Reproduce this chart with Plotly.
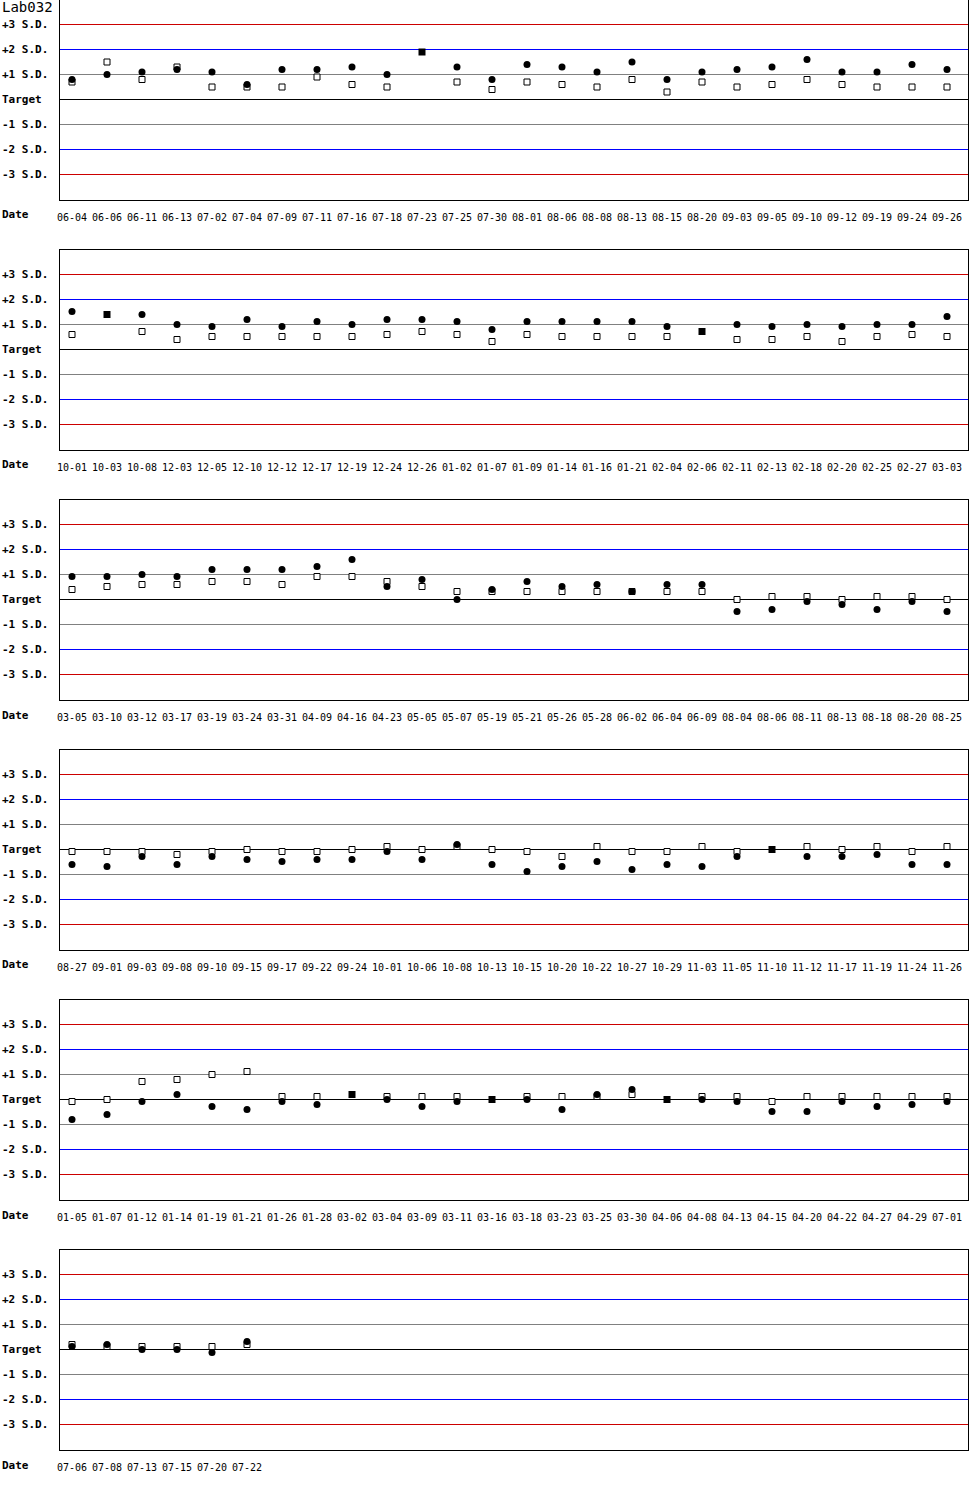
import plotly.graph_objects as go
from plotly.subplots import make_subplots

# Levey-Jennings chart, Lab032; values in S.D. from target
dates1 = ["06-04", "06-06", "06-11", "06-13", "07-02", "07-04", "07-09", "07-11", "07-16", "07-18",
          "07-23", "07-25", "07-30", "08-01", "08-06", "08-08", "08-13", "08-15", "08-20", "09-03",
          "09-05", "09-10", "09-12", "09-19", "09-24", "09-26"]
circ1 = [0.8, 1.0, 1.1, 1.2, 1.1, 0.6, 1.2, 1.2, 1.3, 1.0, None, 1.3, 0.8, 1.4, 1.3, 1.1, 1.5,
         0.8, 1.1, 1.2, 1.3, 1.6, 1.1, 1.1, 1.4, 1.2]
sq1 = [0.7, 1.5, 0.8, 1.3, 0.5, 0.5, 0.5, 0.9, 0.6, 0.5, None, 0.7, 0.4, 0.7, 0.6, 0.5, 0.8,
       0.3, 0.7, 0.5, 0.6, 0.8, 0.6, 0.5, 0.5, 0.5]
flagd1 = ["07-23"]
flagv1 = [1.9]

dates2 = ["10-01", "10-03", "10-08", "12-03", "12-05", "12-10", "12-12", "12-17", "12-19", "12-24",
          "12-26", "01-02", "01-07", "01-09", "01-14", "01-16", "01-21", "02-04", "02-06", "02-11",
          "02-13", "02-18", "02-20", "02-25", "02-27", "03-03"]
circ2 = [1.52, None, 1.4, 1.0, 0.92, 1.2, 0.92, 1.12, 1.0, 1.2, 1.2, 1.12, 0.8, 1.12, 1.12, 1.12,
         1.12, 0.92, None, 1.0, 0.92, 1.0, 0.92, 1.0, 1.0, 1.32]
sq2 = [0.6, None, 0.72, 0.4, 0.52, 0.52, 0.52, 0.52, 0.52, 0.6, 0.72, 0.6, 0.32, 0.6, 0.52, 0.52,
       0.52, 0.52, None, 0.4, 0.4, 0.52, 0.32, 0.52, 0.6, 0.52]
flagd2 = ["10-03", "02-06"]
flagv2 = [1.4, 0.72]

dates3 = ["03-05", "03-10", "03-12", "03-17", "03-19", "03-24", "03-31", "04-09", "04-16", "04-23",
          "05-05", "05-07", "05-19", "05-21", "05-26", "05-28", "06-02", "06-04", "06-09", "08-04",
          "08-06", "08-11", "08-13", "08-18", "08-20", "08-25"]
circ3 = [0.92, 0.92, 1.0, 0.92, 1.2, 1.2, 1.2, 1.32, 1.6, 0.52, 0.8, 0.0, 0.4, 0.72, 0.52, 0.6,
         0.32, 0.6, 0.6, -0.48, -0.4, -0.08, -0.2, -0.4, -0.08, -0.48]
sq3 = [0.4, 0.52, 0.6, 0.6, 0.72, 0.72, 0.6, 0.92, 0.92, 0.72, 0.52, 0.32, 0.32, 0.32, 0.32, 0.32,
       0.32, 0.32, 0.32, 0.0, 0.12, 0.12, 0.0, 0.12, 0.12, 0.0]
flagd3 = []
flagv3 = []

dates4 = ["08-27", "09-01", "09-03", "09-08", "09-10", "09-15", "09-17", "09-22", "09-24", "10-01",
          "10-06", "10-08", "10-13", "10-15", "10-20", "10-22", "10-27", "10-29", "11-03", "11-05",
          "11-10", "11-12", "11-17", "11-19", "11-24", "11-26"]
circ4 = [-0.6, -0.68, -0.28, -0.6, -0.28, -0.4, -0.48, -0.4, -0.4, -0.08, -0.4, 0.2, -0.6, -0.88,
         -0.68, -0.48, -0.8, -0.6, -0.68, -0.28, None, -0.28, -0.28, -0.2, -0.6, -0.6]
sq4 = [-0.08, -0.08, -0.08, -0.2, -0.08, 0.0, -0.08, -0.08, 0.0, 0.12, 0.0, 0.12, 0.0, -0.08,
       -0.28, 0.12, -0.08, -0.08, 0.12, -0.08, None, 0.12, 0.0, 0.12, -0.08, 0.12]
flagd4 = ["11-10"]
flagv4 = [0.0]

dates5 = ["01-05", "01-07", "01-12", "01-14", "01-19", "01-21", "01-26", "01-28", "03-02", "03-04",
          "03-09", "03-11", "03-16", "03-18", "03-23", "03-25", "03-30", "04-06", "04-08", "04-13",
          "04-15", "04-20", "04-22", "04-27", "04-29", "07-01"]
circ5 = [-0.8, -0.6, -0.08, 0.2, -0.28, -0.4, -0.08, -0.2, None, 0.0, -0.28, -0.08, None, 0.0,
         -0.4, 0.2, 0.4, None, 0.0, -0.08, -0.48, -0.48, -0.08, -0.28, -0.2, -0.08]
sq5 = [-0.08, 0.0, 0.72, 0.8, 1.0, 1.12, 0.12, 0.12, None, 0.12, 0.12, 0.12, None, 0.12, 0.12,
       0.12, 0.2, None, 0.12, 0.12, -0.08, 0.12, 0.12, 0.12, 0.12, 0.12]
flagd5 = ["03-02", "03-16", "04-06"]
flagv5 = [0.2, 0.0, 0.0]

dates6 = ["07-06", "07-08", "07-13", "07-15", "07-20", "07-22"]
circ6 = [0.12, 0.2, 0.0, 0.0, -0.12, 0.32]
sq6 = [0.2, 0.12, 0.12, 0.12, 0.12, 0.2]
flagd6 = []
flagv6 = []

sd_levels = [3, 2, 1, 0, -1, -2, -3]
sd_labels = ["+3 S.D.", "+2 S.D.", "+1 S.D.", "Target", "-1 S.D.", "-2 S.D.", "-3 S.D."]
sd_colors = ["#cc0000", "#0000ff", "#808080", "#000000", "#808080", "#0000ff", "#cc0000"]

panels = [
    (dates1, circ1, sq1, flagd1, flagv1),
    (dates2, circ2, sq2, flagd2, flagv2),
    (dates3, circ3, sq3, flagd3, flagv3),
    (dates4, circ4, sq4, flagd4, flagv4),
    (dates5, circ5, sq5, flagd5, flagv5),
    (dates6, circ6, sq6, flagd6, flagv6),
]

MONO = "DejaVu Sans Mono"
W, H = 970, 1500
L, R, T, B = 60, 2, 0, 50
pw = W - L - R

fig = make_subplots(rows=6, cols=1, vertical_spacing=50 / 1450)

for r, (dates, circ, sq, fd, fv) in enumerate(panels, start=1):
    fig.add_trace(go.Scatter(x=dates, y=sq, mode="markers",
                             marker=dict(symbol="square", size=6, color="white",
                                         line=dict(color="black", width=1))),
                  row=r, col=1)
    if fd:
        fig.add_trace(go.Scatter(x=fd, y=fv, mode="markers",
                                 marker=dict(symbol="square", size=7, color="black")),
                      row=r, col=1)
    fig.add_trace(go.Scatter(x=dates, y=circ, mode="markers",
                             marker=dict(symbol="circle", size=7, color="black")),
                  row=r, col=1)

    for v, c in zip(sd_levels, sd_colors):
        fig.add_hline(y=v, line_color=c, line_width=1, layer="below", row=r, col=1)

    xr = "x" if r == 1 else f"x{r}"
    yr = "y" if r == 1 else f"y{r}"
    for v, lab in zip(sd_levels, sd_labels):
        fig.add_annotation(xref=f"{xr} domain", yref=yr, x=-L / pw, y=v, text=lab,
                           showarrow=False, xanchor="left", yanchor="middle",
                           font=dict(family=MONO, size=11, color="black", weight="bold"))
    fig.add_annotation(xref=f"{xr} domain", yref=f"{yr} domain", x=-L / pw, y=-15 / 200,
                       text="Date", showarrow=False, xanchor="left", yanchor="middle",
                       font=dict(family=MONO, size=11, color="black", weight="bold"))

    fig.update_xaxes(type="category", categoryarray=dates, range=[-0.343, 25.6],
                     showgrid=False, zeroline=False, showline=True, mirror=True,
                     linecolor="black", linewidth=1, ticks="", ticklabelstandoff=8,
                     tickfont=dict(family=MONO, size=10, color="black"),
                     row=r, col=1)
    # range nudged by half a pixel so the S.D. lines sit on pixel centres
    fig.update_yaxes(range=[-4.02, 3.98], showgrid=False, zeroline=False, showline=True,
                     mirror=True, linecolor="black", linewidth=1, showticklabels=False,
                     ticks="", row=r, col=1)

fig.add_annotation(xref="paper", yref="paper", x=-L / pw, y=1.002, text="Lab032",
                   showarrow=False, xanchor="left", yanchor="top",
                   font=dict(family=MONO, size=14, color="black"))

fig.update_layout(width=W, height=H, margin=dict(l=L, r=R, t=T, b=B),
                  showlegend=False, plot_bgcolor="white", paper_bgcolor="white")

fig.write_html("out.html", config={"displayModeBar": False},
               post_script="document.body.style.margin='0px';")
